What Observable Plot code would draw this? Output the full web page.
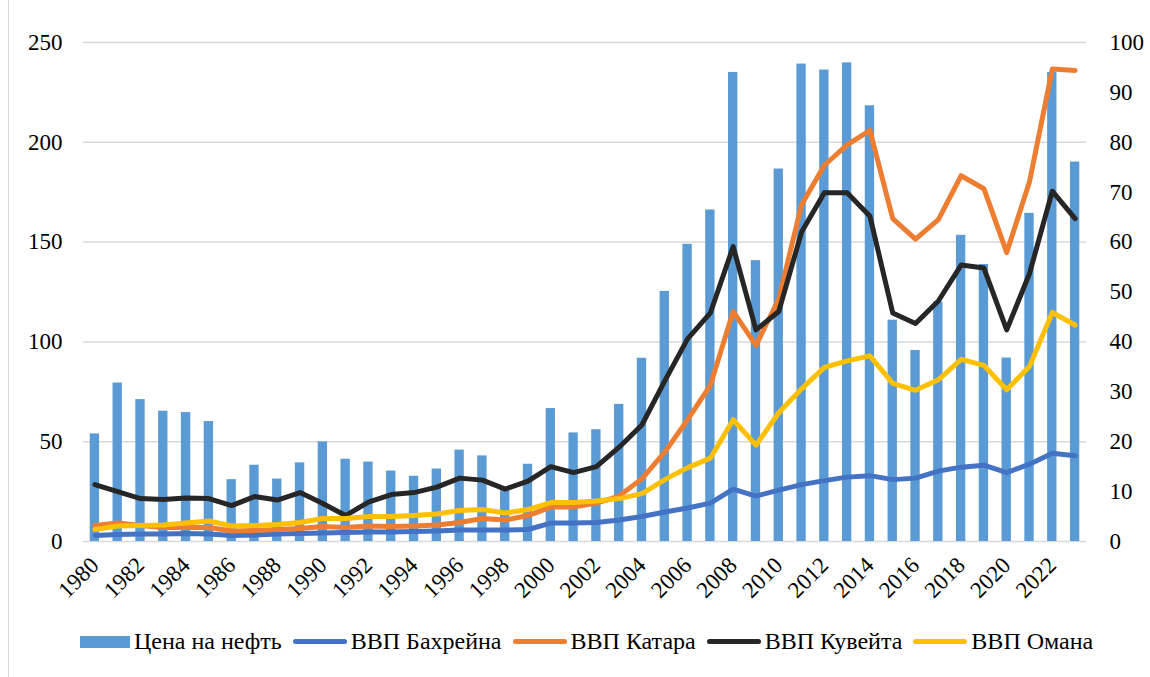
<!DOCTYPE html>
<html><head><meta charset="utf-8">
<script src="https://cdn.jsdelivr.net/npm/d3@7"></script>
<script src="https://cdn.jsdelivr.net/npm/@observablehq/plot@0.6"></script>
<style>
body{margin:0;background:#fff;}
#wrap{position:relative;width:1150px;height:677px;overflow:hidden;background:#fff;}
#border{position:absolute;left:8px;top:0;bottom:0;width:1px;background:#d9d9d9;}
#chart{position:absolute;left:0;top:0;}
#legend{position:absolute;top:628px;left:80px;display:flex;align-items:center;font:24px 'Liberation Serif';color:#000;white-space:nowrap;}
.item{display:flex;align-items:center;margin-right:11px;}
.sw{margin-right:4px;}
</style></head><body><div id="wrap"><div id="border"></div><div id="chart"></div><div id="legend"></div></div>
<script>
const years = [1980,1981,1982,1983,1984,1985,1986,1987,1988,1989,1990,1991,1992,1993,1994,1995,1996,1997,1998,1999,2000,2001,2002,2003,2004,2005,2006,2007,2008,2009,2010,2011,2012,2013,2014,2015,2016,2017,2018,2019,2020,2021,2022,2023];
const tickYears = [1980,1982,1984,1986,1988,1990,1992,1994,1996,1998,2000,2002,2004,2006,2008,2010,2012,2014,2016,2018,2020,2022];
const leftTicks = [0,50,100,150,200,250];
const rightTicks = [0,10,20,30,40,50,60,70,80,90,100];
const oilPrice = [53.9,79.4,71.1,65.3,64.6,60.1,31.0,38.2,31.3,39.4,49.9,41.2,39.8,35.3,32.7,36.3,45.8,42.9,25.5,38.7,66.6,54.4,56.0,68.7,91.8,125.3,148.9,166.1,235.0,140.7,186.6,239.2,236.2,239.8,218.3,110.9,95.7,120.0,153.4,138.8,91.9,164.4,235.0,190.1];
const gdpBahrain = [1.2,1.4,1.5,1.5,1.6,1.5,1.2,1.3,1.5,1.6,1.7,1.8,1.9,1.9,2.0,2.1,2.3,2.3,2.3,2.4,3.7,3.7,3.8,4.3,5.0,5.9,6.7,7.7,10.5,9.1,10.3,11.4,12.2,12.9,13.2,12.4,12.7,14.1,14.9,15.3,13.8,15.5,17.7,17.2];
const gdpQatar = [3.2,3.7,3.2,2.8,2.8,2.8,2.1,2.2,2.4,2.6,3.0,2.8,3.1,3.0,3.1,3.3,3.8,4.6,4.3,5.2,6.9,6.9,7.7,9.1,12.6,17.9,24.4,31.3,46.1,39.3,48.6,67.5,75.4,79.5,82.4,64.7,60.6,64.5,73.3,70.7,57.9,72.1,94.7,94.4];
const gdpKuwait = [11.4,10.0,8.6,8.4,8.7,8.6,7.2,9.0,8.3,9.8,7.6,5.2,7.9,9.4,9.8,10.9,12.7,12.3,10.5,12.1,15.0,13.8,15.0,18.9,23.4,32.2,40.6,45.8,59.1,42.4,46.1,62.0,69.9,69.9,65.2,45.8,43.7,48.2,55.4,54.8,42.4,53.7,70.2,64.7];
const gdpOman = [2.4,3.1,3.2,3.3,3.7,4.1,3.1,3.2,3.4,3.8,4.6,4.6,5.0,5.0,5.2,5.5,6.2,6.4,5.7,6.4,7.8,7.8,8.1,8.6,9.6,12.4,14.8,16.7,24.4,19.3,25.8,30.6,34.9,36.2,37.2,31.7,30.3,32.4,36.5,35.3,30.4,35.1,45.9,43.4];
const barName = "Цена на нефть";
const lineNames = ["ВВП Бахрейна","ВВП Катара","ВВП Кувейта","ВВП Омана"];
const lineSeries = [gdpBahrain, gdpQatar, gdpKuwait, gdpOman];
const barColor = "#5B9BD5";
const lineColors = ["#4472C4","#ED7D31","#262626","#FFC000"];

const ratio = 250 / 100;
const bars = years.map((y, i) => ({year: y, value: oilPrice[i]}));
const lineMarks = lineSeries.map((s, k) =>
  Plot.lineY(years.map((y, i) => ({year: y, value: s[i]})), {
    x: "year", y: d => d.value * ratio, stroke: lineColors[k], strokeWidth: 5,
    strokeLinejoin: "round", strokeLinecap: "round"
  })
);

const chart = Plot.plot({
  width: 1150, height: 615,
  marginLeft: 83, marginRight: 64, marginTop: 42, marginBottom: 74,
  style: "font: 23px 'Liberation Serif'; color: #000; background: transparent;",
  x: {type: "band", domain: years, paddingInner: 0.59, paddingOuter: 0.295, axis: null, label: null},
  y: {domain: [0, 250], axis: null, label: null},
  marks: [
    Plot.gridY(leftTicks, {stroke: "#d9d9d9", strokeOpacity: 1, strokeWidth: 1.5}),
    Plot.barY(bars, {x: "year", y: "value", fill: barColor}),
    ...lineMarks,
    Plot.axisY(leftTicks, {anchor: "left", tickSize: 0, tickPadding: 21, fill: "#000", label: null}),
    Plot.axisY(rightTicks.map(d => d * ratio), {anchor: "right", tickSize: 0, tickPadding: 23, tickFormat: d => String(Math.round(d / ratio)), textAnchor: "start", fill: "#000", label: null}),
    Plot.axisX(tickYears, {anchor: "bottom", tickSize: 0, tickPadding: 20, tickRotate: -45, tickFormat: d => String(d), fill: "#000", label: null})
  ]
});
d3.select(chart).selectAll("text").style("font-family", "'Liberation Serif'");
document.getElementById("chart").appendChild(chart);

const legend = document.getElementById("legend");
function addItem(name, color, isBar) {
  const it = document.createElement("div"); it.className = "item";
  const sw = document.createElement("span"); sw.className = "sw";
  sw.style.display = "inline-block";
  sw.style.background = color;
  if (isBar) { sw.style.width = "50px"; sw.style.height = "12px"; }
  else { sw.style.width = "54px"; sw.style.height = "5px"; sw.style.borderRadius = "3px"; }
  const tx = document.createElement("span"); tx.textContent = name;
  it.appendChild(sw); it.appendChild(tx); legend.appendChild(it);
}
addItem(barName, barColor, true);
lineNames.forEach((n, k) => addItem(n, lineColors[k], false));
</script>
</body></html>
